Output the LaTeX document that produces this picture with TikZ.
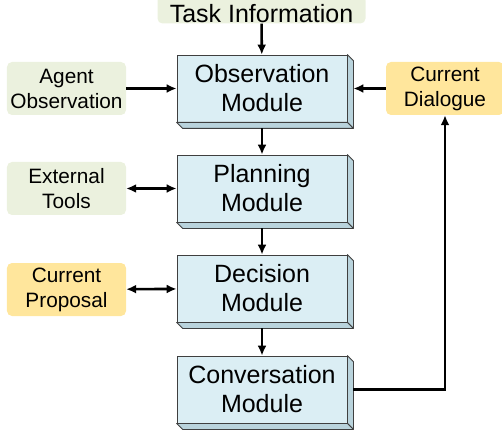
\documentclass[tikz,border=0pt]{standalone}
\usepackage{fontspec}
\setmainfont{Liberation Sans}
\usepackage[x11names, rgb]{xcolor}
\usepackage{tikz}
\usetikzlibrary{calc,arrows.meta,positioning}

\definecolor{infogreen}{HTML}{EBF1DE}
\definecolor{dlgyellow}{HTML}{FFE69C}
\definecolor{modblue}{HTML}{DBEEF4}
\definecolor{modside}{HTML}{B9D3DC}
\definecolor{modline}{HTML}{3F3F3F}

\tikzset{
	module/.style={rectangle, draw=modline, line width=0.8bp, fill=modblue, inner sep=0pt,
		minimum width=170bp, minimum height=67bp, align=center,
		font=\fontsize{25bp}{29bp}\selectfont},
	sidebox/.style={rectangle, rounded corners=5bp, inner sep=0pt,
		minimum width=119bp, minimum height=53bp, align=center,
		font=\fontsize{20.8bp}{25bp}\selectfont},
	bevel/.style={fill=modside, draw=modline, line width=0.8bp, line join=round},
	flow/.style={line width=2.6bp, -{Latex[length=10bp,width=9bp]}},
	both/.style={line width=2.6bp, {Latex[length=10bp,width=9bp]}-{Latex[length=10bp,width=9bp]}}
}

\begin{document}
\begin{tikzpicture}[x=1bp, y=-1bp]
	\useasboundingbox (0,0) rectangle (502,434);

	\node (task) at (261.5,9.5) [rectangle, rounded corners=5bp, fill=infogreen, inner sep=0pt,
		minimum width=208bp, minimum height=28bp, font=\fontsize{25bp}{29bp}\selectfont] {};
	\node at (261.5,14) [font=\fontsize{25bp}{29bp}\selectfont] {Task Information};

	\node (obs)  at (262,88.5)  [module] {Observation\\Module};
	\node (plan) at (262,188.5) [module] {Planning\\Module};
	\node (dec)  at (262,288.5) [module] {Decision\\Module};
	\node (conv) at (262,389.5) [module] {Conversation\\Module};

	% 3d sides of the modules
	\foreach \m in {obs,plan,dec,conv} {
		\draw [bevel] (\m.north east) -- ++(6,6) -- ([shift={(6bp,-6bp)}]\m.south east)
			-- (\m.south east) -- cycle;
		\draw [bevel] (\m.south west) -- ++(6,6) -- ([shift={(6bp,-6bp)}]\m.south east)
			-- (\m.south east) -- cycle;
	}

	\node (agent) at (66.5,88.5)  [sidebox, fill=infogreen] {Agent\\Observation};
	\node (tools) at (66.5,188.5) [sidebox, fill=infogreen] {External\\Tools};
	\node (prop)  at (66.5,289.5) [sidebox, fill=dlgyellow] {Current\\Proposal};
	\node (dlg)   at (445,88.5)   [sidebox, fill=dlgyellow, minimum width=118bp] {Current\\Dialogue};

	\draw [flow] (task) -- (obs);
	\draw [flow] ([yshift=-6bp]obs.south) -- (plan);
	\draw [flow] ([yshift=-6bp]plan.south) -- (dec);
	\draw [flow] ([yshift=-6bp]dec.south) -- (conv);

	\draw [flow] (agent) -- (obs);
	\draw [flow] (dlg) -- ([xshift=6bp]obs.east);
	\draw [both] (tools) -- (plan);
	\draw [both] (prop) -- (dec);

	\draw [flow, line join=miter] ([xshift=6bp]conv.east) -| (dlg.south);

\end{tikzpicture}
\end{document}
